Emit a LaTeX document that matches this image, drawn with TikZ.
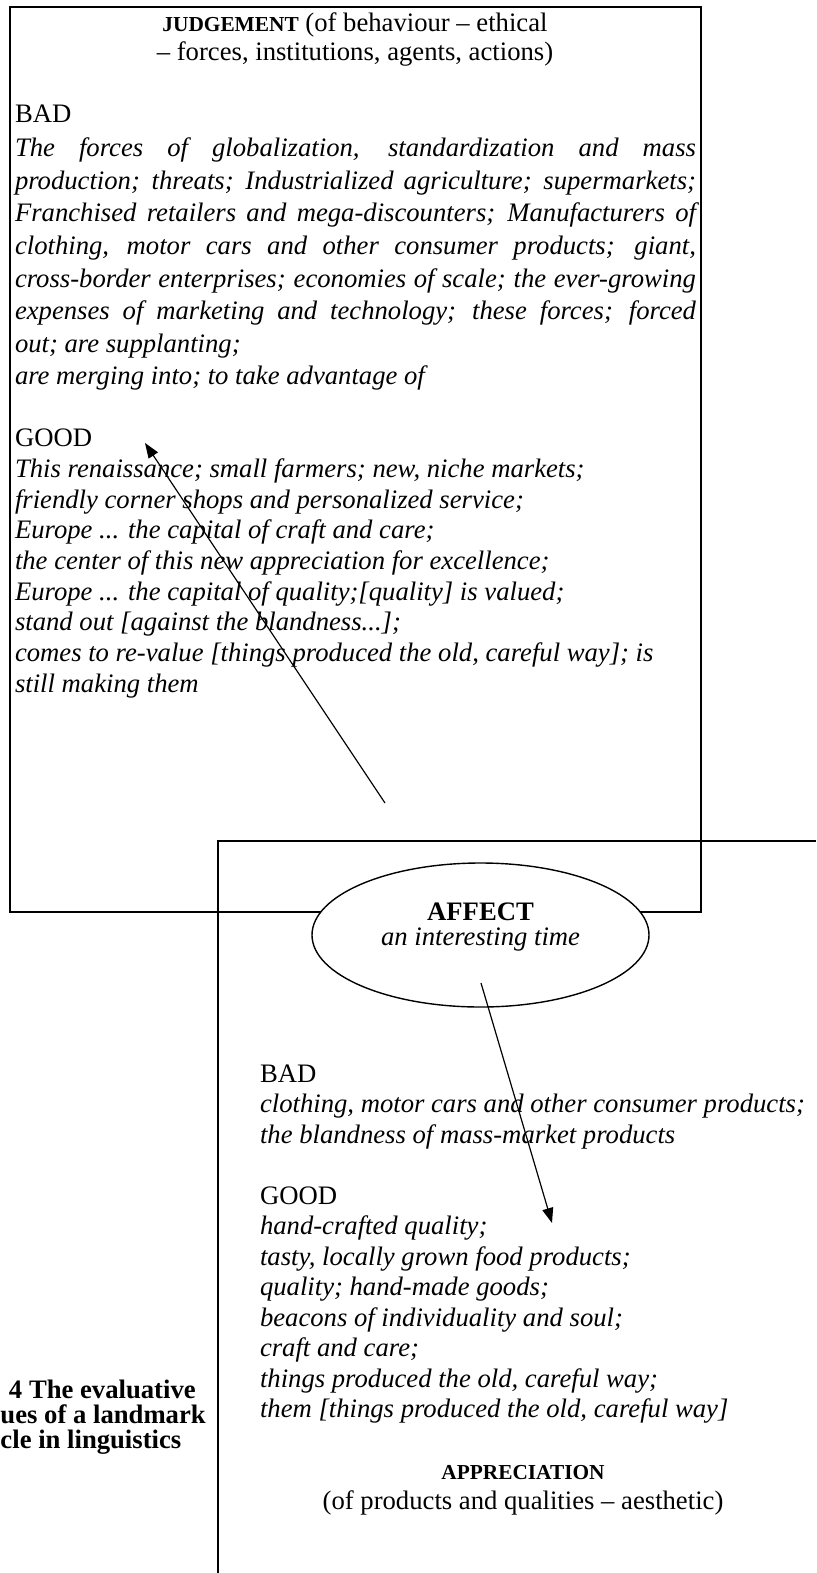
\documentclass[tikz,border=0pt]{standalone}
\usepackage{fontspec}
\setmainfont{Liberation Serif}
\usetikzlibrary{shapes.geometric,arrows.meta}
\begin{document}
\begin{tikzpicture}[x=1pt,y=-1pt,
  boxline/.style={line width=2pt},
  txt/.style={anchor=base west,inner sep=0pt,outer sep=0pt,font=\fontsize{26.67}{30}\selectfont},
  itx/.style={txt,font=\fontsize{26.67}{30}\selectfont\itshape},
  ctr/.style={txt,anchor=base},
  hd/.style={ctr,font=\fontsize{21.33}{26}\selectfont\bfseries},
  capt/.style={txt,font=\fontsize{26.67}{30}\selectfont\bfseries},
  arr/.style={line width=1.2pt,-{Triangle[length=15pt,width=11pt]}},
]
\useasboundingbox (0,0) rectangle (816,1573);
\fill[white] (0,0) rectangle (816,1573);

% boxes
\draw[boxline] (9.5,7) rectangle (701,912);
\draw[boxline] (816,841) -- (218,841) -- (218,1573);

% ellipse
\node[ellipse,draw,line width=1.4pt,fill=white,minimum width=337pt,minimum height=144pt,inner sep=0pt] (affect) at (480.5,935) {};
\node[ctr,font=\fontsize{26.67}{30}\selectfont\bfseries] (affT) at (480.5,920) {AFFECT};
\node[ctr,font=\fontsize{26.67}{30}\selectfont\itshape] (affS) at (480.5,945) {an interesting time};

% judgement box text
\node[ctr] (jt1) at (355,32) {{\fontsize{21.33}{26}\selectfont\bfseries JUDGEMENT} (of behaviour – ethical};
\node[ctr] (jt2) at (355,61) {– forces, institutions, agents, actions)};

\node[txt] (jbad) at (15,123) {BAD};
\node[itx] (jb1) at (15,157) {\makebox[681pt][s]{The forces of globalization, standardization and mass}};
\node[itx] (jb2) at (15,189.5) {\makebox[681pt][s]{production; threats; Industrialized agriculture; supermarkets;}};
\node[itx] (jb3) at (15,222) {\makebox[681pt][s]{Franchised retailers and mega-discounters; Manufacturers of}};
\node[itx] (jb4) at (15,254.5) {\makebox[681pt][s]{clothing, motor cars and other consumer products; giant,}};
\node[itx] (jb5) at (15,287) {\makebox[681pt][s]{cross-border enterprises; economies of scale; the ever-growing}};
\node[itx] (jb6) at (15,319.5) {\makebox[681pt][s]{expenses of marketing and technology; these forces; forced}};
\node[itx] (jb7) at (15,352) {out; are supplanting;};
\node[itx] (jb8) at (15,384.5) {are merging into; to take advantage of};

\node[txt] (jgood) at (15,446.5) {GOOD};
\node[itx] (jg1) at (15,477.5) {This renaissance; small farmers; new, niche markets;};
\node[itx] (jg2) at (15,508.2) {friendly corner shops and personalized service;};
\node[itx] (jg3) at (15,538.8) {Europe ... the capital of craft and care;};
\node[itx] (jg4) at (15,569.5) {the center of this new appreciation for excellence;};
\node[itx] (jg5) at (15,600.2) {Europe ... the capital of quality;[quality] is valued;};
\node[itx] (jg6) at (15,630.8) {stand out [against the blandness...];};
\node[itx] (jg7) at (15,661.5) {comes to re-value [things produced the old, careful way]; is};
\node[itx] (jg8) at (15,692.2) {still making them};

% appreciation box text
\node[txt] (abad) at (260,1082) {BAD};
\node[itx] (ab1) at (260,1112.5) {clothing, motor cars and other consumer products;};
\node[itx] (ab2) at (260,1143) {the blandness of mass-market products};
\node[txt] (agood) at (260,1204) {GOOD};
\node[itx] (ag1) at (260,1234.5) {hand-crafted quality;};
\node[itx] (ag2) at (260,1265) {tasty, locally grown food products;};
\node[itx] (ag3) at (260,1295.5) {quality; hand-made goods;};
\node[itx] (ag4) at (260,1326) {beacons of individuality and soul;};
\node[itx] (ag5) at (260,1356.5) {craft and care;};
\node[itx] (ag6) at (260,1387) {things produced the old, careful way;};
\node[itx] (ag7) at (260,1417.5) {them [things produced the old, careful way]};
\node[hd] (aph) at (523,1479) {APPRECIATION};
\node[ctr] (aps) at (523,1509) {(of products and qualities – aesthetic)};

% caption fragments
\node[capt] (cap1) at (9,1398) {4 The evaluative};
\node[capt] (cap2) at (0.5,1423) {ues of a landmark};
\node[capt] (cap3) at (0.5,1448) {cle in linguistics};

% arrows
\coordinate (a1s) at (385,803);
\coordinate (a1e) at (145,443);
\draw[arr] (a1s) -- (a1e);
\coordinate (a2s) at (481,983);
\coordinate (a2e) at (552,1223);
\draw[arr] (a2s) -- (a2e);
\end{tikzpicture}
\end{document}
